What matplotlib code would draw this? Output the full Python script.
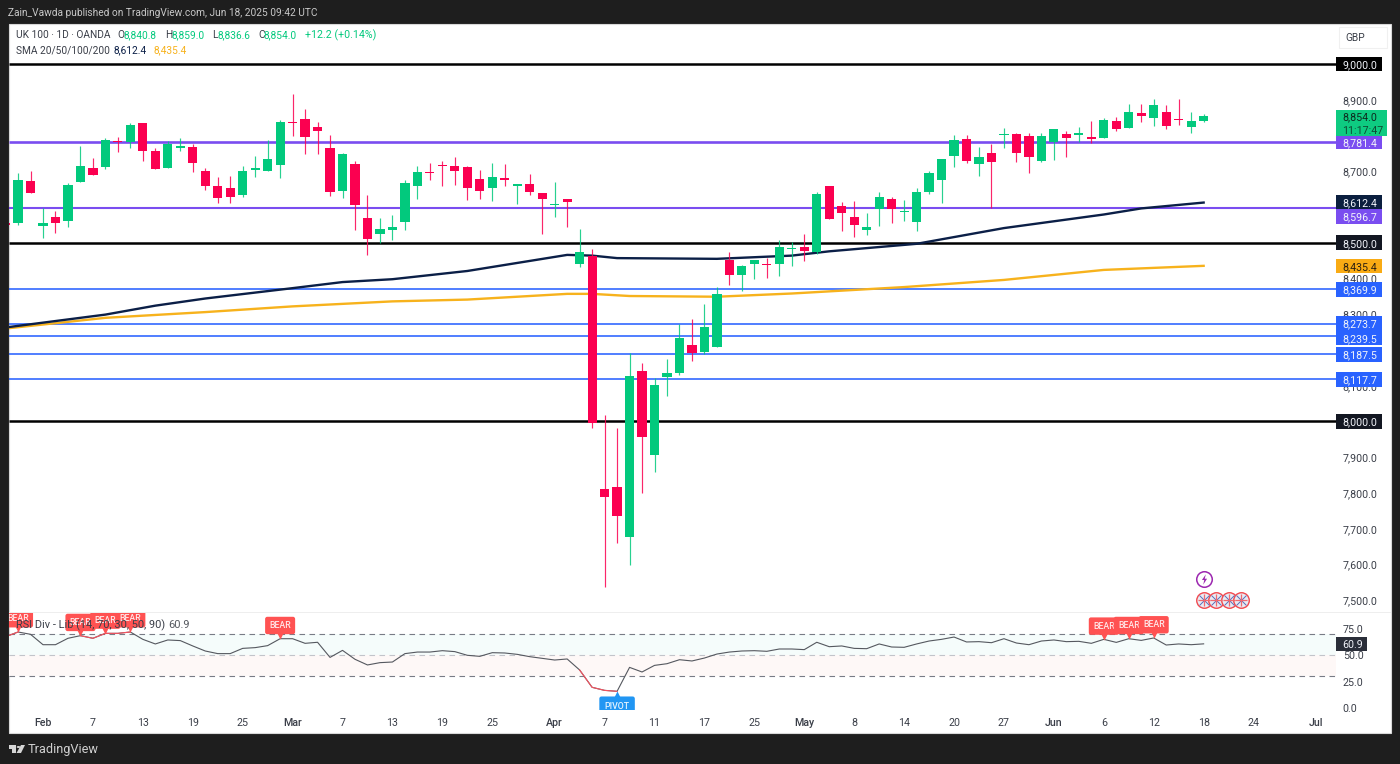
import numpy as np
from matplotlib import pyplot as plt
from matplotlib.patches import Rectangle, Polygon
from matplotlib.ticker import FuncFormatter

# candles, one entry per trading day, first one is cut by the left edge
opens = [8556, 8556, 8673, 8547, 8573, 8562, 8669, 8710, 8713, 8785,
         8782, 8834, 8757, 8710, 8766, 8768, 8700, 8659, 8652, 8633,
         8704, 8701, 8717, 8839, 8846, 8825, 8765, 8646, 8721, 8570,
         8525, 8537, 8559, 8660, 8699, 8716, 8716, 8712, 8678, 8653,
         8681, 8660, 8663, 8639, 8605, 8623, 8441, 8464, 7810, 7816,
         7676, 8141, 7907, 8124, 8135, 8214, 8194, 8207, 8453, 8411,
         8441, 8440, 8440, 8482, 8489, 8473, 8659, 8602, 8573, 8535,
         8593, 8622, 8585, 8559, 8642, 8675, 8742, 8790, 8720, 8750,
         8800, 8803, 8798, 8729, 8781, 8805, 8800, 8795, 8794, 8841,
         8820, 8862, 8849, 8865, 8846, 8825, 8840.8]
highs = [8558, 8694, 8700, 8596, 8589, 8668, 8771, 8736, 8793, 8797,
         8834, 8834, 8766, 8785, 8793, 8776, 8708, 8683, 8688, 8715,
         8743, 8786, 8842, 8916, 8874, 8839, 8800, 8752, 8728, 8633,
         8569, 8579, 8675, 8714, 8723, 8729, 8740, 8715, 8704, 8723,
         8719, 8665, 8692, 8639, 8669, 8623, 8538, 8482, 8018, 7983,
         8191, 8165, 8121, 8174, 8273, 8286, 8329, 8375, 8473, 8439,
         8452, 8458, 8507, 8503, 8524, 8642, 8659, 8613, 8616, 8584,
         8641, 8627, 8620, 8652, 8700, 8733, 8801, 8800, 8769, 8776,
         8822, 8806, 8807, 8807, 8819, 8812, 8823, 8841, 8850, 8853,
         8889, 8887, 8901, 8884, 8901, 8866, 8859.0]
lows = [8548, 8550, 8640, 8514, 8528, 8545, 8669, 8689, 8706, 8753,
        8764, 8730, 8705, 8710, 8757, 8699, 8647, 8612, 8612, 8627,
        8685, 8701, 8682, 8798, 8748, 8748, 8631, 8626, 8536, 8466,
        8500, 8508, 8537, 8623, 8675, 8660, 8661, 8620, 8621, 8617,
        8659, 8609, 8634, 8525, 8571, 8545, 8432, 7983, 7536, 7659,
        7599, 7799, 7860, 8072, 8131, 8169, 8189, 8207, 8382, 8366,
        8399, 8400, 8408, 8435, 8449, 8468, 8566, 8533, 8517, 8523,
        8548, 8554, 8561, 8533, 8637, 8612, 8712, 8722, 8687, 8598,
        8766, 8727, 8696, 8725, 8732, 8741, 8783, 8778, 8793, 8812,
        8820, 8838, 8826, 8818, 8830, 8808, 8836.6]
closes = [8550, 8675, 8640, 8556, 8554, 8661, 8715, 8689, 8787, 8781,
          8829, 8756, 8705, 8776, 8771, 8722, 8660, 8626, 8629, 8700,
          8708, 8733, 8839, 8836, 8797, 8813, 8643, 8748, 8605, 8510,
          8539, 8544, 8666, 8698, 8695, 8714, 8702, 8652, 8646, 8683,
          8675, 8665, 8641, 8621, 8608, 8615, 8473, 7997, 7790, 7736,
          8127, 7956, 8101, 8137, 8234, 8192, 8264, 8357, 8411, 8436,
          8452, 8437, 8488, 8484, 8477, 8635, 8566, 8583, 8550, 8544,
          8628, 8593, 8589, 8642, 8696, 8733, 8786, 8729, 8740, 8727,
          8803, 8752, 8739, 8798, 8817, 8794, 8806, 8790, 8843, 8817,
          8865, 8854, 8886, 8827, 8843, 8841, 8854.0]

rsi = [67.7, 72.2, 70.0, 60.1, 60.1, 66.2, 68.7, 66.2, 70.9, 70.9,
       72.2, 65.2, 60.8, 64.6, 64.0, 58.9, 54.1, 51.6, 51.6, 56.6,
       57.3, 59.2, 65.8, 65.8, 61.4, 62.4, 48.0, 54.7, 46.2, 40.8,
       43.0, 43.6, 51.6, 53.1, 53.1, 54.4, 53.5, 50.0, 49.0, 52.5,
       52.2, 50.9, 48.7, 47.1, 45.5, 46.5, 36.0, 19.5, 16.6, 15.7,
       38.5, 34.1, 40.4, 42.0, 45.8, 44.6, 47.4, 51.2, 53.1, 54.1,
       54.4, 53.8, 56.0, 56.0, 55.4, 62.4, 58.2, 58.9, 56.6, 56.3,
       60.8, 57.9, 57.6, 60.8, 63.6, 65.2, 67.4, 62.7, 63.0, 62.0,
       65.8, 61.7, 60.1, 63.6, 64.6, 63.0, 63.3, 61.4, 65.2, 62.3,
       65.8, 64.2, 66.5, 59.8, 60.8, 60.1, 60.9]

# moving averages, read at the places where they bend
sma_blue_days = [-3, 5, 9, 13, 20, 24, 28, 34, 42, 44, 46, 54, 60, 63, 70, 77, 85, 88, 93]
sma_blue = [8263, 8299, 8324, 8344, 8373, 8390, 8398, 8421, 8466, 8464, 8457, 8455, 8464,
            8476, 8497, 8541, 8579, 8596, 8612.4]
sma_gold_days = [-3, 5, 13, 20, 28, 34, 42, 44, 47, 54, 60, 69, 77, 85, 93]
sma_gold = [8260, 8290, 8306, 8322, 8336, 8341, 8357, 8357, 8351, 8349, 8358, 8376, 8396,
            8424, 8435.4]

black_levels = [9000.0, 8500.0, 8000.0]
purple_levels = [8781.4, 8596.7]
blue_levels = [8369.9, 8273.7, 8239.5, 8187.5, 8117.7]

price_ticks = [7500, 7600, 7700, 7800, 7900, 8100, 8200, 8300, 8400, 8700, 8900]
rsi_ticks = [0, 25, 50, 75]
date_days = [0, 4, 8, 12, 16, 20, 24, 28, 32, 36, 41, 45, 49, 53, 57, 61, 65, 69, 73, 77,
             81, 85, 89, 93, 97, 102]
date_labels = ['Feb', '7', '13', '19', '25', 'Mar', '7', '13', '19', '25', 'Apr', '7', '11',
               '17', '25', 'May', '8', '14', '20', '27', 'Jun', '6', '12', '18', '24', 'Jul']
month_labels = ['Feb', 'Mar', 'Apr', 'May', 'Jun', 'Jul']

bear_days = [-2, 3, 5, 7, 19, 85, 87, 89]
pivot_day = 46
flag_days = [93, 94, 95, 96]

#-----------------------------------------------------------------------------------------------#

GREEN = '#02c97d'
RED = '#fb0050'
DARK = '#1e1e1e'
TEXT = '#3a3e48'
FONT = 'Roboto'
FS = 7.7
HDR = 7.3

plt.rcParams['font.family'] = [FONT, 'DejaVu Sans']

W, H = 1400, 764
fig = plt.figure(figsize=(W / 100, H / 100), dpi=100, facecolor=DARK)


def fx(px):
    return px / W


def fy(px):
    return 1 - px / H


def fig_text(px, py, s, color=TEXT, size=HDR, **kw):
    fig.text(fx(px), fy(py), s, color=color, fontsize=size, va='center', ha=kw.pop('ha', 'left'), **kw)


days = np.arange(len(opens)) - 3
xlim = ((8.5 - 43) / 12.48, (1336 - 43) / 12.48)

# white sheet behind both panes
fig.add_artist(Rectangle((fx(8.5), fy(733)), fx(1391 - 8.5), fy(23.5) - fy(733), transform=fig.transFigure,
                         facecolor='white', edgecolor='#d8d8d8', linewidth=0.8, zorder=-1))

ax = fig.add_axes([fx(8.5), fy(612), fx(1336 - 8.5), fy(23.5) - fy(612)], facecolor='none')
ax2 = fig.add_axes([fx(8.5), fy(710), fx(1336 - 8.5), fy(613) - fy(710)], facecolor='none')

#--------------------------------------------------------------------------------------------------------------#
# price pane
ax.set_xlim(*xlim)
ax.set_ylim(9179 - 2.7972 * 612, 9179 - 2.7972 * 23.5)

ax.hlines(blue_levels, *xlim, color='#2962ff', linewidth=1.15, zorder=1)
ax.hlines(purple_levels[0], *xlim, color='#7a4df0', linewidth=1.9, zorder=1)
ax.hlines(purple_levels[1], *xlim, color='#7a4df0', linewidth=1.5, zorder=1)
ax.hlines(black_levels, *xlim, color='black', linewidth=1.8, zorder=1.2)

ax.plot(sma_gold_days, sma_gold, color='#f7b21c', linewidth=1.7, zorder=1.4)
ax.plot(sma_blue_days, sma_blue, color='#0b1f47', linewidth=1.7, zorder=1.5)

candle_colors = [GREEN if c >= o else RED for o, c in zip(opens, closes)]
bottoms = np.minimum(opens, closes)
heights = np.maximum(np.abs(np.array(closes) - np.array(opens)), 2.8)
ax.vlines(days, lows, highs, colors=candle_colors, linewidth=0.85, alpha=0.85, zorder=3)
ax.bar(days, heights, bottom=bottoms, width=0.74, color=candle_colors, linewidth=0, zorder=3.2)

ax.set_yticks(price_ticks)
ax.yaxis.set_major_formatter(FuncFormatter(lambda v, pos: f'{v:,.1f}'))
ax.yaxis.tick_right()
ax.tick_params(axis='y', length=0, pad=4.8, labelsize=FS, labelcolor=TEXT)
ax.set_xticks([])
for s in ax.spines.values():
    s.set_visible(False)


def badge(a, value, text, face, txt='#f2f4fa', width=46, height=14.5, shift=0):
    # price tag sitting on the right scale, shift in px where tags would collide
    pane_w = a.get_window_extent().width
    span = a.get_ylim()[1] - a.get_ylim()[0]
    unit = span / a.get_window_extent().height
    h = height * unit
    y = value - shift * unit
    a.add_patch(Rectangle((1.0, y - h / 2), width / pane_w, h, transform=a.get_yaxis_transform(),
                          facecolor=face, edgecolor='none', clip_on=False, zorder=6))
    a.text(1.0 + 6.5 / pane_w, y, text, transform=a.get_yaxis_transform(), color=txt, fontsize=FS,
           va='center_baseline', ha='left', clip_on=False, zorder=7)


for lvl in black_levels:
    badge(ax, lvl, f'{lvl:,.1f}', '#000000' if lvl == 9000.0 else '#131722')
badge(ax, blue_levels[0], f'{blue_levels[0]:,.1f}', '#2962ff')
badge(ax, blue_levels[1], f'{blue_levels[1]:,.1f}', '#2962ff')
badge(ax, blue_levels[2], f'{blue_levels[2]:,.1f}', '#2962ff', shift=2)
badge(ax, blue_levels[3], f'{blue_levels[3]:,.1f}', '#2962ff')
badge(ax, blue_levels[4], f'{blue_levels[4]:,.1f}', '#2962ff')
badge(ax, sma_gold[-1], f'{sma_gold[-1]:,.1f}', '#f9ab14', txt='#2a2012')
badge(ax, sma_blue[-1], f'{sma_blue[-1]:,.1f}', '#0b1f3f')
badge(ax, purple_levels[0], f'{purple_levels[0]:,.1f}', '#7a4df0')
badge(ax, purple_levels[1], f'{purple_levels[1]:,.1f}', '#7a4df0', shift=8.5)

# last price tag has the countdown under it
ax.add_patch(Rectangle((1.0, closes[-1] - 20 * 2.7972), 51 / ax.get_window_extent().width, 26.5 * 2.7972,
                       transform=ax.get_yaxis_transform(), facecolor='#0ecb81', edgecolor='none',
                       clip_on=False, zorder=6))
ax.text(1.0 + 6.5 / ax.get_window_extent().width, closes[-1], f'{closes[-1]:,.1f}',
        transform=ax.get_yaxis_transform(), color='#0d2a1e', fontsize=FS, va='center_baseline',
        clip_on=False, zorder=7)
ax.text(1.0 + 6.5 / ax.get_window_extent().width, closes[-1] - 13.5 * 2.7972, '11:17:47',
        transform=ax.get_yaxis_transform(), color='#0d4a32', fontsize=FS, va='center_baseline',
        clip_on=False, zorder=7)

# event icons at the bottom of the price pane
flag_y = 7500.7
ax.scatter(flag_days, [flag_y] * 4, s=125, facecolor='#e8ecf4', edgecolor='#f2494f', linewidth=1.0, zorder=8)
ax.scatter(flag_days, [flag_y] * 4, s=50, marker='x', color='#5a6cb8', linewidth=0.7, zorder=8.1)
ax.scatter(flag_days, [flag_y] * 4, s=75, marker='+', color='#f2696f', linewidth=0.9, zorder=8.2)
bolt = [(0.25, 1), (-0.5, -0.1), (-0.05, -0.1), (-0.25, -1), (0.5, 0.15), (0.05, 0.15)]
ax.scatter([flag_days[0]], [7559.4], s=125, facecolor='white', edgecolor='#9c27b0', linewidth=1.1, zorder=8)
ax.scatter([flag_days[0]], [7559.4], s=55, marker=bolt, color='#9c27b0', linewidth=0, zorder=8.1)

#--------------------------------------------------------------------------------------------------------------#
# RSI pane
ax2.set_xlim(*xlim)
ax2.set_ylim((707.8 - 710) / 1.05, (707.8 - 613) / 1.05)

ax2.axhspan(50, 70, color='#f5fcfb', linewidth=0, zorder=0)
ax2.axhspan(30, 50, color='#fef8f7', linewidth=0, zorder=0)
for lvl in [70, 30]:
    ax2.axhline(lvl, color='#787b86', linewidth=0.8, linestyle=(0, (5, 4)), zorder=1)
ax2.axhline(50, color='#c2c4ca', linewidth=0.8, linestyle=(0, (5, 4)), zorder=1)

rsi_arr = np.array(rsi)
ax2.plot(days, rsi_arr, color='#55585f', linewidth=0.8, zorder=2)
for first, last in [(-3, -2), (3, 7), (43, 46)]:
    part = (days >= first) & (days <= last)
    ax2.plot(days[part], rsi_arr[part], color='#f7525f', linewidth=0.8, zorder=2.1)

for d in bear_days:
    v = rsi_arr[d + 3]
    ax2.scatter([d], [v + 3.6], marker='v', s=34, color='#ff5252', linewidth=0, zorder=4)
    ax2.text(d, v + 12.6, 'BEAR', color='#ffe9ea', fontsize=6.3, fontweight='medium', ha='center', va='center',
             clip_on=True, zorder=4.1,
             bbox=dict(boxstyle='round,pad=0.48,rounding_size=0.25', facecolor='#ff5252', edgecolor='none'))

pv = rsi_arr[pivot_day + 3]
ax2.scatter([pivot_day], [pv - 3.4], marker='^', s=34, color='#2196f3', linewidth=0, zorder=4)
ax2.text(pivot_day, pv - 14.2, 'PIVOT', color='#e6f4ff', fontsize=6.3, fontweight='medium', ha='center', va='center',
         clip_on=True, zorder=4.1,
         bbox=dict(boxstyle='round,pad=0.6,rounding_size=0.25', facecolor='#2196f3', edgecolor='none'))

ax2.set_yticks(rsi_ticks)
ax2.yaxis.set_major_formatter(FuncFormatter(lambda v, pos: f'{v:.1f}'))
ax2.yaxis.tick_right()
ax2.tick_params(axis='y', length=0, pad=4.8, labelsize=FS, labelcolor=TEXT)
ax2.set_xticks(date_days)
ax2.set_xticklabels(date_labels)
ax2.tick_params(axis='x', length=0, pad=5.6, labelsize=FS, labelcolor=TEXT)
for lab in ax2.get_xticklabels():
    if lab.get_text() in month_labels:
        lab.set_fontweight('medium')
for s in ax2.spines.values():
    s.set_visible(False)

badge(ax2, rsi[-1], f'{rsi[-1]:.1f}', '#2a2e39', width=31)

#--------------------------------------------------------------------------------------------------------------#
# separator between panes and the text around the chart
fig.add_artist(Rectangle((fx(9), fy(613)), fx(1391 - 9), fy(611.5) - fy(613), transform=fig.transFigure,
                         facecolor='#eeeeee', edgecolor='none', zorder=1))

fig_text(8.5, 12.5, 'Zain_Vawda published on TradingView.com, Jun 18, 2025 09:42 UTC', color='#c8c8c8')

fig_text(15.7, 35.5, 'UK 100 · 1D · OANDA')
fig_text(117, 35.5, 'O')
fig_text(124, 35.5, '8,840.8', color=GREEN)
fig_text(165, 35.5, 'H')
fig_text(171.7, 35.5, '8,859.0', color=GREEN)
fig_text(212, 35.5, 'L')
fig_text(218, 35.5, '8,836.6', color=GREEN)
fig_text(258, 35.5, 'C')
fig_text(264, 35.5, '8,854.0', color=GREEN)
fig_text(305, 35.5, '+12.2 (+0.14%)', color=GREEN, size=7.7)
fig_text(15.7, 50, 'SMA 20/50/100/200')
fig_text(113, 50, '8,612.4', color='#0b1f47')
fig_text(154, 50, '8,435.4', color='#f7b21c')

fig_text(15.7, 625, 'RSI Div - Lib (14, 70, 30, 50, 90)', size=7.9, zorder=5)
fig_text(168, 625, '60.9', color='#55585f', size=7.9, zorder=5)

fig.add_artist(Rectangle((fx(1339), fy(47.5)), fx(48), fy(27) - fy(47.5), transform=fig.transFigure,
                         facecolor='white', edgecolor='#f0f0f0', linewidth=0.8, zorder=1))
fig_text(1355, 38, 'GBP', ha='center')

# TradingView logo and name under the chart
logo_color = '#d6d6d6'
fig.add_artist(Polygon([(fx(8.5), fy(745)), (fx(16), fy(745)), (fx(16), fy(753)), (fx(12), fy(753)),
                        (fx(12), fy(749)), (fx(8.5), fy(749))], transform=fig.transFigure,
                       facecolor=logo_color, edgecolor='none'))
fig.add_artist(plt.Circle((fx(18.5), fy(747)), 0.0013, transform=fig.transFigure, facecolor=logo_color, edgecolor='none'))
fig.add_artist(Polygon([(fx(21), fy(745)), (fx(25), fy(745)), (fx(21), fy(753)), (fx(16.5), fy(753))],
                       transform=fig.transFigure, facecolor=logo_color, edgecolor='none'))
fig_text(28, 749, 'TradingView', color='#d0d0d0', size=9.2)

fig.savefig('out.png', dpi=100, facecolor=DARK)
